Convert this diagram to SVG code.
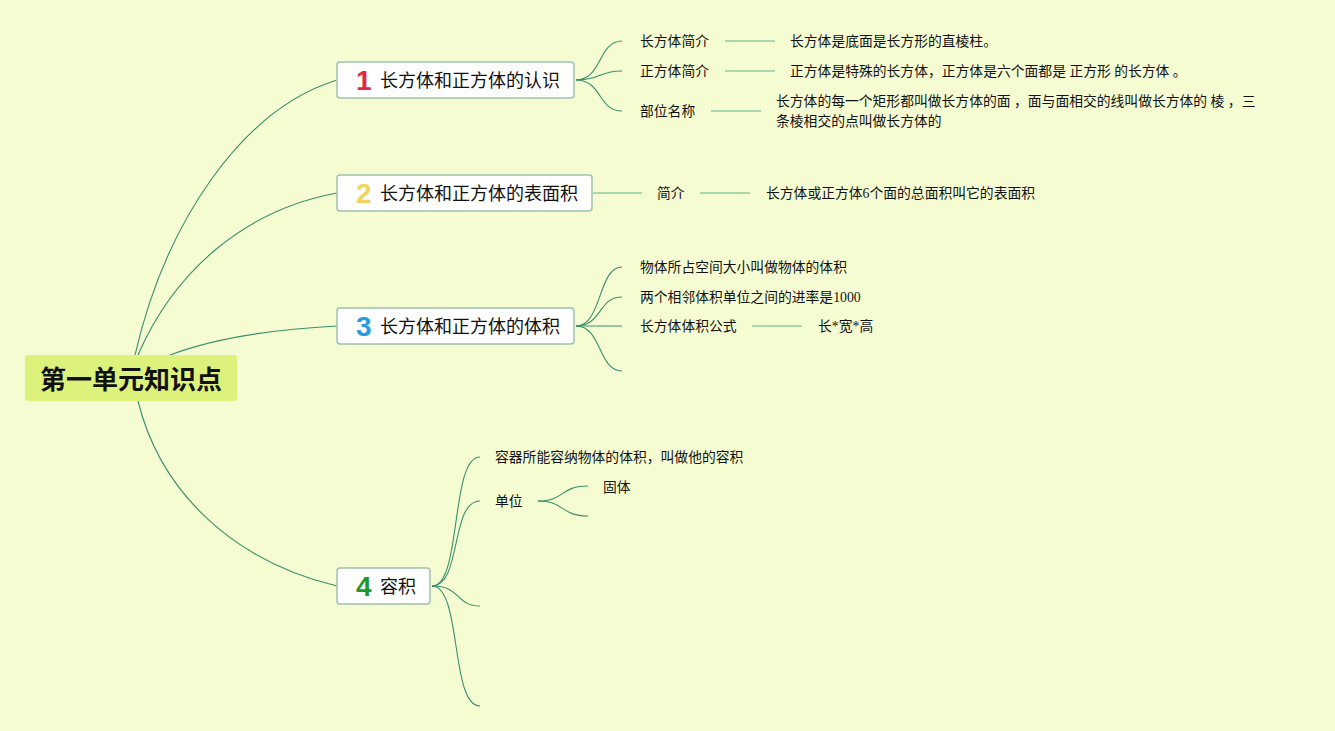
<svg xmlns="http://www.w3.org/2000/svg" width="1335" height="731" viewBox="0 0 1335 731">
<style>
.bg{fill:#f5fcd2}
.conn path{fill:none;stroke:#3a8f6e;stroke-width:1.1}
.conn line{stroke:#8fcba2;stroke-width:1.6}
.box{fill:#ffffff;stroke:#9fc2b0;stroke-width:1.5}
.t1{font-family:"Noto Sans CJK SC",sans-serif;font-size:18px;fill:#111}
.num{font-family:"Liberation Sans",Arial,sans-serif;font-size:28px;font-weight:bold}
.t2{font-family:"Liberation Serif","Noto Sans CJK SC",serif;font-size:13.8px;fill:#111}
.root{font-family:"Noto Sans CJK SC",sans-serif;font-size:26px;font-weight:bold;fill:#111}
</style>
<rect class="bg" x="0" y="0" width="1335" height="731"/>
<g class="conn" id="connectors">
<path d="M135,355 C165,225 240,110 337,80"/>
<path d="M138,355 C175,270 245,210 337,193"/>
<path d="M170,355 C220,336 280,329 337,326"/>
<path d="M138,401 C160,490 230,560 337,586"/>
<path d="M576,80 C602,80 598,41 622,41"/>
<path d="M576,80 C602,80 598,71 622,71"/>
<path d="M576,80 C602,80 598,111 622,111"/>
<line x1="725" y1="41" x2="775" y2="41"/>
<line x1="725" y1="71" x2="775" y2="71"/>
<line x1="711" y1="111" x2="761" y2="111"/>
<line x1="593" y1="193" x2="642" y2="193"/>
<line x1="700" y1="193" x2="750" y2="193"/>
<path d="M576,326 C602,326 598,267 622,267"/>
<path d="M576,326 C602,326 598,297 622,297"/>
<path d="M576,326 L622,326"/>
<path d="M576,326 C602,326 598,371 622,371"/>
<line x1="752" y1="326" x2="802" y2="326"/>
<path d="M432,586 C462,586 450,457 480,457"/>
<path d="M432,586 C462,586 450,501 480,501"/>
<path d="M432,586 C462,586 455,606 480,606"/>
<path d="M432,586 C462,586 450,706 480,706"/>
<path d="M538,501 C565,501 560,486 588,486"/>
<path d="M538,501 C565,501 560,516 588,516"/>
</g>
<g id="root">
<rect x="25" y="355" width="212" height="46" rx="3" fill="#ddf27a"/>
<text class="root" x="131" y="389" text-anchor="middle">第一单元知识点</text>
</g>
<g id="n1">
<rect class="box" x="337" y="62" width="237" height="36" rx="3"/>
<text class="num" x="356" y="90" fill="#e02a3e">1</text>
<text class="t1" x="380" y="87">长方体和正方体的认识</text>
</g>
<g id="n2">
<rect class="box" x="337" y="175" width="255" height="36" rx="3"/>
<text class="num" x="356" y="203" fill="#f0d45e">2</text>
<text class="t1" x="380" y="200">长方体和正方体的表面积</text>
</g>
<g id="n3">
<rect class="box" x="337" y="308" width="237" height="36" rx="3"/>
<text class="num" x="356" y="336" fill="#2a9ae0">3</text>
<text class="t1" x="380" y="333">长方体和正方体的体积</text>
</g>
<g id="n4">
<rect class="box" x="337" y="568" width="93" height="36" rx="3"/>
<text class="num" x="356" y="596" fill="#1e9a2c">4</text>
<text class="t1" x="380" y="593">容积</text>
</g>
<g id="n1a"><text class="t2" x="640" y="46">长方体简介</text></g>
<g id="n1a1"><text class="t2" x="790" y="46">长方体是底面是长方形的直棱柱。</text></g>
<g id="n1b"><text class="t2" x="640" y="76">正方体简介</text></g>
<g id="n1b1"><text class="t2" x="790" y="76">正方体是特殊的长方体，正方体是六个面都是 正方形 的长方体 。</text></g>
<g id="n1c"><text class="t2" x="640" y="116">部位名称</text></g>
<g id="n1c1"><text class="t2" x="776" y="106">长方体的每一个矩形都叫做长方体的面 ，面与面相交的线叫做长方体的 棱 ，三</text>
<text class="t2" x="776" y="126">条棱相交的点叫做长方体的</text></g>
<g id="n2a"><text class="t2" x="657" y="198">简介</text></g>
<g id="n2a1"><text class="t2" x="766" y="198">长方体或正方体6个面的总面积叫它的表面积</text></g>
<g id="n3a"><text class="t2" x="640" y="272">物体所占空间大小叫做物体的体积</text></g>
<g id="n3b"><text class="t2" x="640" y="302">两个相邻体积单位之间的进率是1000</text></g>
<g id="n3c"><text class="t2" x="640" y="331">长方体体积公式</text></g>
<g id="n3c1"><text class="t2" x="818" y="331">长*宽*高</text></g>
<g id="n4a"><text class="t2" x="495" y="462">容器所能容纳物体的体积，叫做他的容积</text></g>
<g id="n4b"><text class="t2" x="495" y="506">单位</text></g>
<g id="n4b1"><text class="t2" x="603" y="492">固体</text></g>
</svg>
